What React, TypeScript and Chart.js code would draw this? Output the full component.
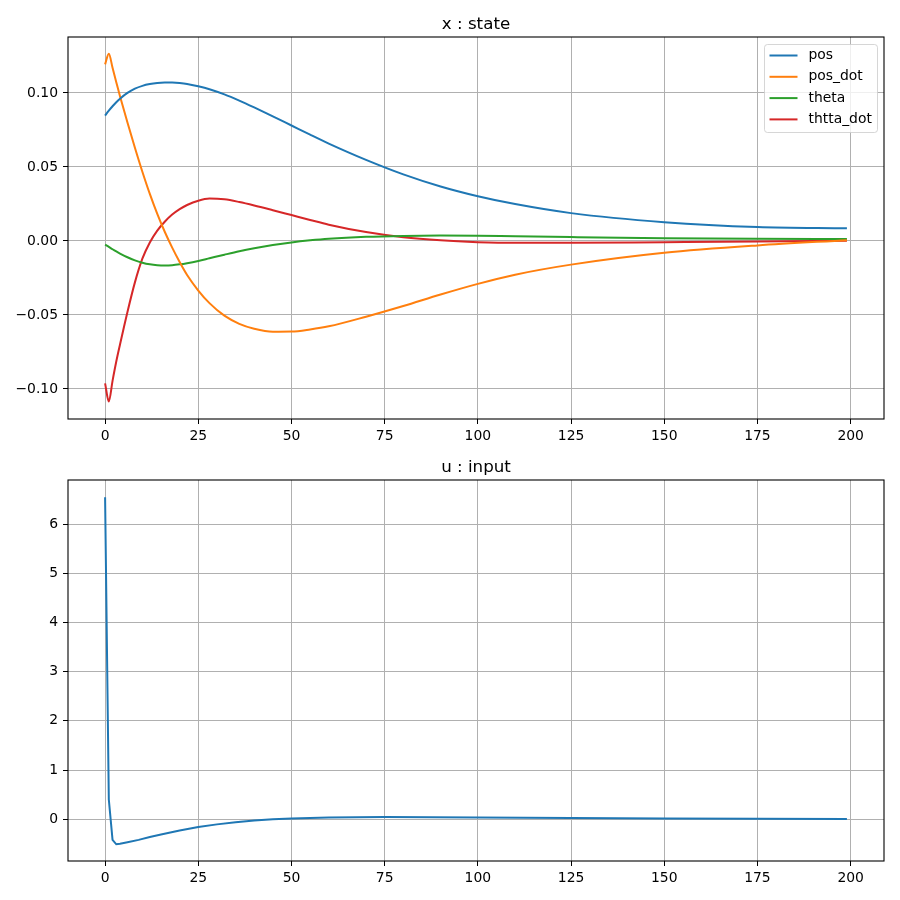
import React, { useEffect, useRef } from "react";
import { Chart, registerables } from "chart.js";
Chart.register(...registerables);

const FONT = '"DejaVu Sans", sans-serif';

// ---------- data ----------
const T_STATE = [0, 1, 2, 3, 4, 6, 8, 10, 12, 14, 16, 18, 20, 22, 25, 28, 32, 36, 40, 45, 50, 55, 60, 70, 80, 90, 100, 110, 125, 150, 175, 199];
const POS = [0.0847, 0.088, 0.091, 0.0937, 0.0961, 0.1, 0.1029, 0.1048, 0.106, 0.1067, 0.107, 0.107, 0.1067, 0.1061, 0.1045, 0.1025, 0.099, 0.0948, 0.0902, 0.0842, 0.078, 0.0718, 0.0658, 0.0548, 0.045, 0.0368, 0.0302, 0.0249, 0.0188, 0.0127, 0.0094, 0.0085];
const POS_DOT = [0.1193, 0.1265, 0.117, 0.1073, 0.0978, 0.08, 0.063, 0.0468, 0.0318, 0.0183, 0.0062, -0.0045, -0.0142, -0.023, -0.0335, -0.042, -0.0505, -0.056, -0.0593, -0.0613, -0.0612, -0.0598, -0.0577, -0.0512, -0.044, -0.0362, -0.029, -0.0228, -0.016, -0.008, -0.003, 0.0005];
const THETA = [-0.0025, -0.004, -0.0056, -0.0071, -0.0085, -0.011, -0.0131, -0.0147, -0.0158, -0.0164, -0.0166, -0.0164, -0.0158, -0.015, -0.0135, -0.0117, -0.0093, -0.007, -0.005, -0.0028, -0.001, 0.0004, 0.0015, 0.0028, 0.0034, 0.0036, 0.0035, 0.0031, 0.0026, 0.0019, 0.0015, 0.0013];
const THETA_DOT = [-0.0962, -0.1085, -0.0945, -0.0815, -0.07, -0.048, -0.028, -0.012, -0.001, 0.007, 0.013, 0.0178, 0.0215, 0.0243, 0.0272, 0.0286, 0.0281, 0.0263, 0.024, 0.0208, 0.0175, 0.0142, 0.011, 0.006, 0.0025, 0.0004, -0.0008, -0.0013, -0.0013, -0.0008, -0.0003, 0.0002];

const T_U = [0, 1, 2, 3, 4, 6, 9, 12, 15, 20, 25, 30, 35, 40, 45, 50, 60, 75, 100, 125, 150, 175, 199];
const U = [6.55, 0.4, -0.42, -0.51, -0.5, -0.47, -0.42, -0.36, -0.31, -0.23, -0.16, -0.105, -0.06, -0.025, 0.0, 0.015, 0.035, 0.045, 0.035, 0.025, 0.016, 0.01, 0.006];

const SERIES_LABELS = ["pos", "pos_dot", "theta", "thtta_dot"];
const SERIES_VALUES = [POS, POS_DOT, THETA, THETA_DOT];
const COLORS = ["#1f77b4", "#ff7f0e", "#2ca02c", "#d62728"];

const X_TICKS = [0, 25, 50, 75, 100, 125, 150, 175, 200];
const Y_TICKS_STATE = [-0.1, -0.05, 0, 0.05, 0.1];
const Y_TICKS_U = [0, 1, 2, 3, 4, 5, 6];

const X_MIN = -9.95, X_MAX = 208.95;
const Y_STATE_MIN = -0.1203, Y_STATE_MAX = 0.1378;
const Y_U_MIN = -0.85, Y_U_MAX = 6.9;

const TITLE_STATE = "x : state";
const TITLE_U = "u : input";

const mfmt = (s: string) => s.replace("-", "\u2212");

function scales(yMin: number, yMax: number, yTicks: number[], yfmt: (v: number) => string, xh: number) {
  const grid = { color: "#b0b0b0", lineWidth: 1, tickColor: "#000", tickLength: 5, tickWidth: 1 };
  const tickFont = { family: FONT, size: 13.9 };
  return {
    x: {
      type: "linear",
      min: X_MIN,
      max: X_MAX,
      afterBuildTicks: (s: any) => { s.ticks = X_TICKS.map((v) => ({ value: v })); },
      afterFit: (s: any) => { s.height = xh; },
      grid,
      border: { display: false },
      ticks: { color: "#000", font: tickFont, padding: 4, maxRotation: 0, autoSkip: false, callback: (v: any) => mfmt(String(v)) },
    },
    y: {
      type: "linear",
      min: yMin,
      max: yMax,
      afterBuildTicks: (s: any) => { s.ticks = yTicks.map((v) => ({ value: v })); },
      afterFit: (s: any) => { s.width = 68; },
      grid,
      border: { display: false },
      ticks: { color: "#000", font: tickFont, padding: 5, autoSkip: false, callback: (v: any) => yfmt(Number(v)) },
    },
  };
}

function framePlugin(title: string, legend: boolean) {
  return {
    id: "mplFrame",
    afterDraw(chart: any) {
      const { ctx, chartArea: a } = chart;
      ctx.save();
      ctx.strokeStyle = "#000";
      ctx.lineWidth = 1.1;
      ctx.strokeRect(a.left, a.top, a.right - a.left, a.bottom - a.top);
      ctx.fillStyle = "#000";
      ctx.font = `16.7px ${FONT}`;
      ctx.textAlign = "center";
      ctx.textBaseline = "alphabetic";
      ctx.fillText(title, (a.left + a.right) / 2, a.top - 8.3);
      if (legend) {
        const w = 113, h = 88;
        const x0 = a.right - 6.5 - w, y0 = a.top + 7.5;
        ctx.beginPath();
        (ctx as any).roundRect(x0, y0, w, h, 3);
        ctx.fillStyle = "rgba(255,255,255,0.8)";
        ctx.fill();
        ctx.strokeStyle = "rgba(204,204,204,0.8)";
        ctx.lineWidth = 1;
        ctx.stroke();
        SERIES_LABELS.forEach((lab, i) => {
          const cy = y0 + 11 + i * 21.3;
          ctx.strokeStyle = COLORS[i];
          ctx.lineWidth = 2;
          ctx.beginPath();
          ctx.moveTo(x0 + 5, cy);
          ctx.lineTo(x0 + 33, cy);
          ctx.stroke();
          ctx.fillStyle = "#000";
          ctx.font = `13.9px ${FONT}`;
          ctx.textAlign = "left";
          ctx.textBaseline = "middle";
          ctx.fillText(lab, x0 + 44, cy);
        });
      }
      ctx.restore();
    },
  };
}

export default function App() {
  const topRef = useRef<HTMLCanvasElement>(null);
  const botRef = useRef<HTMLCanvasElement>(null);

  useEffect(() => {
    const c1 = new Chart(topRef.current as HTMLCanvasElement, {
      type: "line",
      data: {
        datasets: SERIES_VALUES.map((vals, i) => ({
          label: SERIES_LABELS[i],
          data: T_STATE.map((t, j) => ({ x: t, y: vals[j] })),
          borderColor: COLORS[i],
          backgroundColor: COLORS[i],
          borderWidth: 2,
          pointRadius: 0,
          cubicInterpolationMode: "monotone",
          fill: false,
        })),
      },
      options: {
        responsive: false,
        animation: false,
        devicePixelRatio: 1,
        layout: { padding: { top: 37, right: 16, left: 0, bottom: 0 } },
        plugins: { legend: { display: false }, title: { display: false }, tooltip: { enabled: false } },
        scales: scales(Y_STATE_MIN, Y_STATE_MAX, Y_TICKS_STATE, (v) => mfmt(v.toFixed(2)), 31) as any,
      },
      plugins: [framePlugin(TITLE_STATE, true)],
    } as any);

    const c2 = new Chart(botRef.current as HTMLCanvasElement, {
      type: "line",
      data: {
        datasets: [
          {
            label: "u",
            data: T_U.map((t, j) => ({ x: t, y: U[j] })),
            borderColor: COLORS[0],
            backgroundColor: COLORS[0],
            borderWidth: 2,
            pointRadius: 0,
            tension: 0,
            fill: false,
          },
        ],
      },
      options: {
        responsive: false,
        animation: false,
        devicePixelRatio: 1,
        layout: { padding: { top: 30, right: 16, left: 0, bottom: 0 } },
        plugins: { legend: { display: false }, title: { display: false }, tooltip: { enabled: false } },
        scales: scales(Y_U_MIN, Y_U_MAX, Y_TICKS_U, (v) => mfmt(String(Math.round(v))), 39) as any,
      },
      plugins: [framePlugin(TITLE_U, false)],
    } as any);

    return () => {
      c1.destroy();
      c2.destroy();
    };
  }, []);

  return (
    <div style={{ position: "absolute", left: 0, top: 0, width: 900, height: 900, background: "#fff" }}>
      <canvas ref={topRef} width={900} height={450} style={{ display: "block", width: 900, height: 450 }} />
      <canvas ref={botRef} width={900} height={450} style={{ display: "block", width: 900, height: 450 }} />
    </div>
  );
}
